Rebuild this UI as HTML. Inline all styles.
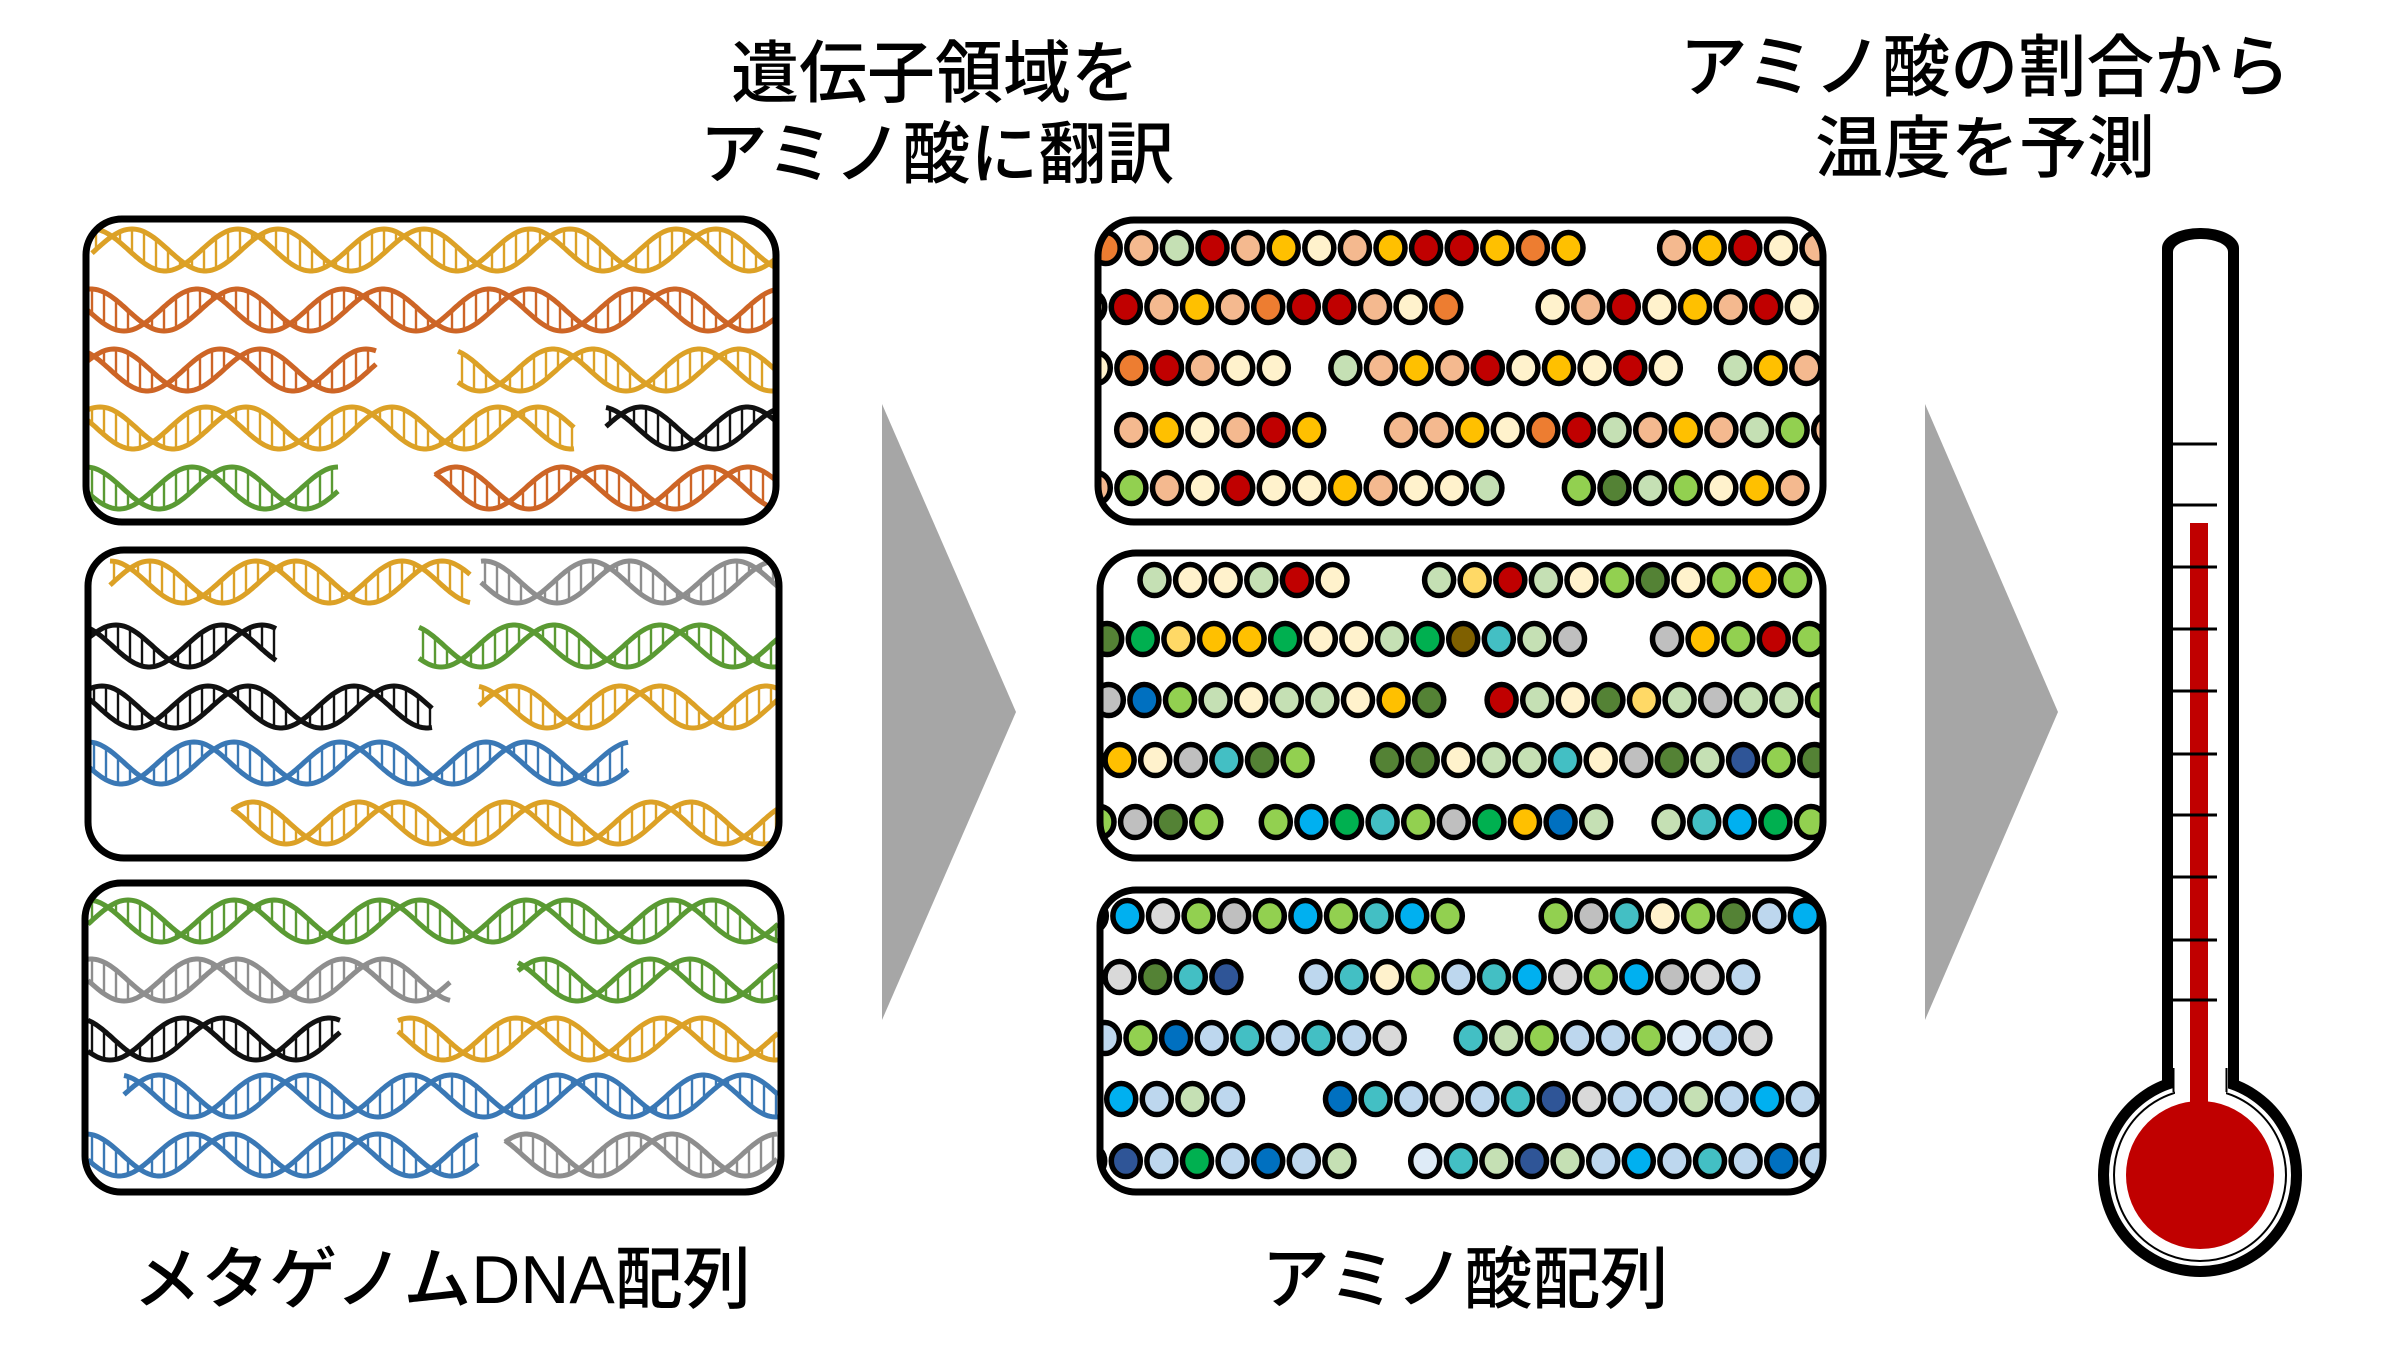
<!DOCTYPE html>
<html><head><meta charset="utf-8"><style>
html,body{margin:0;padding:0;background:#fff;width:2400px;height:1360px;overflow:hidden}
svg{display:block}
text{font-family:"Liberation Sans","Noto Sans CJK JP",sans-serif;fill:#000;font-weight:500}
</style></head><body>
<svg id="s" xmlns="http://www.w3.org/2000/svg" width="2400" height="1360" viewBox="0 0 2400 1360">
<defs id="defs"></defs>
<g id="content"></g>
<text x="935" y="97" font-size="68" text-anchor="middle">遺伝子領域を</text>
<text x="937" y="178" font-size="68" text-anchor="middle">アミノ酸に翻訳</text>
<text x="1985" y="91" font-size="68" text-anchor="middle">アミノ酸の割合から</text>
<text x="1985" y="172" font-size="68" text-anchor="middle">温度を予測</text>
<text x="442" y="1303" font-size="68" text-anchor="middle">メタゲノムDNA配列</text>
<text x="1465" y="1303" font-size="68" text-anchor="middle">アミノ酸配列</text>
<polygon points="882,404 1016,712 882,1020" fill="#a6a6a6"/>
<polygon points="1925,404 2058,712 1925,1020" fill="#a6a6a6"/>
<!-- thermometer -->
<rect x="2162" y="228" width="77" height="900" rx="38" ry="20" fill="#000"/>
<circle cx="2200" cy="1175" r="102" fill="#000"/>
<rect x="2173" y="239" width="55" height="900" rx="27" ry="13" fill="#fff"/>
<circle cx="2200" cy="1175" r="91" fill="#fff"/>
<circle cx="2200" cy="1175" r="86" fill="none" stroke="#000" stroke-width="2"/>
<rect x="2175" y="1060" width="51" height="40" fill="#fff"/>
<line x1="2173.5" y1="1068" x2="2173.5" y2="1092" stroke="#000" stroke-width="2"/>
<line x1="2226.5" y1="1068" x2="2226.5" y2="1092" stroke="#000" stroke-width="2"/>
<circle cx="2200" cy="1175" r="74" fill="#c00000"/>
<rect x="2190" y="523" width="18" height="600" fill="#c00000"/>
<g stroke="#000" stroke-width="3">
<line x1="2173" y1="444" x2="2217" y2="444"/><line x1="2173" y1="505" x2="2217" y2="505"/>
<line x1="2173" y1="567" x2="2217" y2="567"/><line x1="2173" y1="629" x2="2217" y2="629"/>
<line x1="2173" y1="691" x2="2217" y2="691"/><line x1="2173" y1="754" x2="2217" y2="754"/>
<line x1="2173" y1="815" x2="2217" y2="815"/><line x1="2173" y1="877" x2="2217" y2="877"/>
<line x1="2173" y1="940" x2="2217" y2="940"/><line x1="2173" y1="1000" x2="2217" y2="1000"/>
</g>
</svg>
<script>
(function(){
var NS="http://www.w3.org/2000/svg";
var defs=document.getElementById('defs'),content=document.getElementById('content');
function el(n,a,p){var e=document.createElementNS(NS,n);for(var k in a)e.setAttribute(k,a[k]);(p||content).appendChild(e);return e;}
var cid=0;
function box(x1,y1,x2,y2){
  var id='c'+(cid++);
  var cp=el('clipPath',{id:id},defs);
  el('rect',{x:x1,y:y1,width:x2-x1,height:y2-y1,rx:36,ry:36},cp);
  var g=el('g',{'clip-path':'url(#'+id+')'});
  return {g:g,draw:function(){el('rect',{x:x1,y:y1,width:x2-x1,height:y2-y1,rx:36,ry:36,fill:'none',stroke:'#000','stroke-width':7});}};
}
var DC={gold:'#dca126',org:'#cd6526',grn:'#5a9a33',gry:'#8e8e8e',blk:'#111111',blu:'#3a78b5'};
var P=146,A=21,OFF=40;
function helix(g,x0,x1,y,col,ph){
  ph=ph||0;
  var c=DC[col];
  function f(x,o){return y-A*Math.cos(2*Math.PI*(x-x0-o+ph)/P);}
  var d1='',d2='';
  for(var x=x0;x<=x1;x+=2){d1+=(x==x0?'M':'L')+x+','+f(x,0).toFixed(1);d2+=(x==x0?'M':'L')+x+','+f(x,OFF).toFixed(1);}
  var gg=el('g',{},g);
  for(var x=x0+4;x<x1;x+=12){var a=f(x,0),b=f(x,OFF);if(Math.abs(a-b)>6)el('line',{x1:x,y1:a,x2:x,y2:b,stroke:c,'stroke-width':2.4},gg);}
  el('path',{d:d1,fill:'none',stroke:c,'stroke-width':5},gg);
  el('path',{d:d2,fill:'none',stroke:c,'stroke-width':5},gg);
}
var dna=[
 [86,219,776,522,[[250,92,776,'gold'],[310,88,776,'org'],[370,88,376,'org'],[370,458,776,'gold'],[428,88,575,'gold'],[428,606,776,'blk'],[488,88,339,'grn'],[488,435,776,'org']]],
 [88,550,779,858,[[582,110,470,'gold'],[582,481,780,'gry'],[646,90,276,'blk'],[646,419,780,'grn'],[707,90,433,'blk'],[707,479,780,'gold'],[763,90,629,'blu'],[823,232,780,'gold']]],
 [85,883,781,1192,[[921,88,778,'grn'],[980,88,451,'gry'],[980,518,778,'grn'],[1039,88,341,'blk'],[1039,398,778,'gold'],[1096,124,778,'blu'],[1155,88,479,'blu'],[1155,505,778,'gry']]]
];
dna.forEach(function(b){var B=box(b[0],b[1],b[2],b[3]);b[4].forEach(function(r,i){helix(B.g,r[1],r[2],r[0],r[3],(i*37)%60);});B.draw();});
var BC={p:'#f4b98f',g:'#c5e0b4',r:'#c00000',y:'#ffc000',c:'#fff2cc',o:'#ed7d31',G:'#92d050',D:'#548235',e:'#00b050',l:'#ffd966',k:'#7f6000',t:'#43bfc4',s:'#bfbfbf',w:'#d9d9d9',B:'#0070c0',N:'#2f5597',C:'#00b0f0',b:'#bdd7ee',x:'#deebf7'};
var S=1.5464,PT=35.6;
function beads(g,y,segs){segs.forEach(function(sg){var x=sg[0]*S;for(var i=0;i<sg[1].length;i++){el('ellipse',{cx:(x+i*PT).toFixed(1),cy:y,rx:14.5,ry:15.5,fill:BC[sg[1][i]],stroke:'#000','stroke-width':5.5},g);}});}
var am=[
 [1098,220,1823,522,[[248,[[715,'opgrpycpyrryoy'],[1082.6,'pyrcp']]],[307,[[705,'crpyporrpco'],[1004,'cprcyprc']]],[368,[[708.6,'corpcc'],[870,'gpyprcycrc'],[1122,'gyp']]],[430,[[731.5,'pycpry'],[906,'ppycorgpypgGp']]],[488,[[708.6,'pGpcrccypccg'],[1021,'GDgGcyp']]]]],
 [1100,553,1823,858,[[580,[[746.6,'gccgrc'],[930.6,'glrgcGDcGyG']]],[639,[[716,'Delyyeccgektgs'],[1078,'syGrG']]],[700,[[717,'sBGgcggcyD'],[971,'rgcDlgsggG']]],[760,[[724,'ycstDG'],[897,'DDcggtcsDgNGD']]],[822,[[711,'GsDG'],[825,'GCetGseyBg'],[1079,'gtCeG']]]]],
 [1100,890,1823,1192,[[916,[[706,'GCwGsGCGtCG'],[1006,'GstcGDbC']]],[977,[[724,'wDtN'],[851,'btcGbtCwGCswb']]],[1038,[[714.5,'bGBbtbtbw'],[951,'tgGbbGxbw']]],[1099,[[702,'bCbgb'],[866.5,'BtbwbtNwbbgbCb']]],[1161,[[705,'bNbebBbg'],[921.6,'xtgNgbCbtbBbx']]]]]
];
am.forEach(function(b){var B=box(b[0],b[1],b[2],b[3]);b[4].forEach(function(r){beads(B.g,r[0],r[1]);});B.draw();});
})();
</script>
</body></html>
